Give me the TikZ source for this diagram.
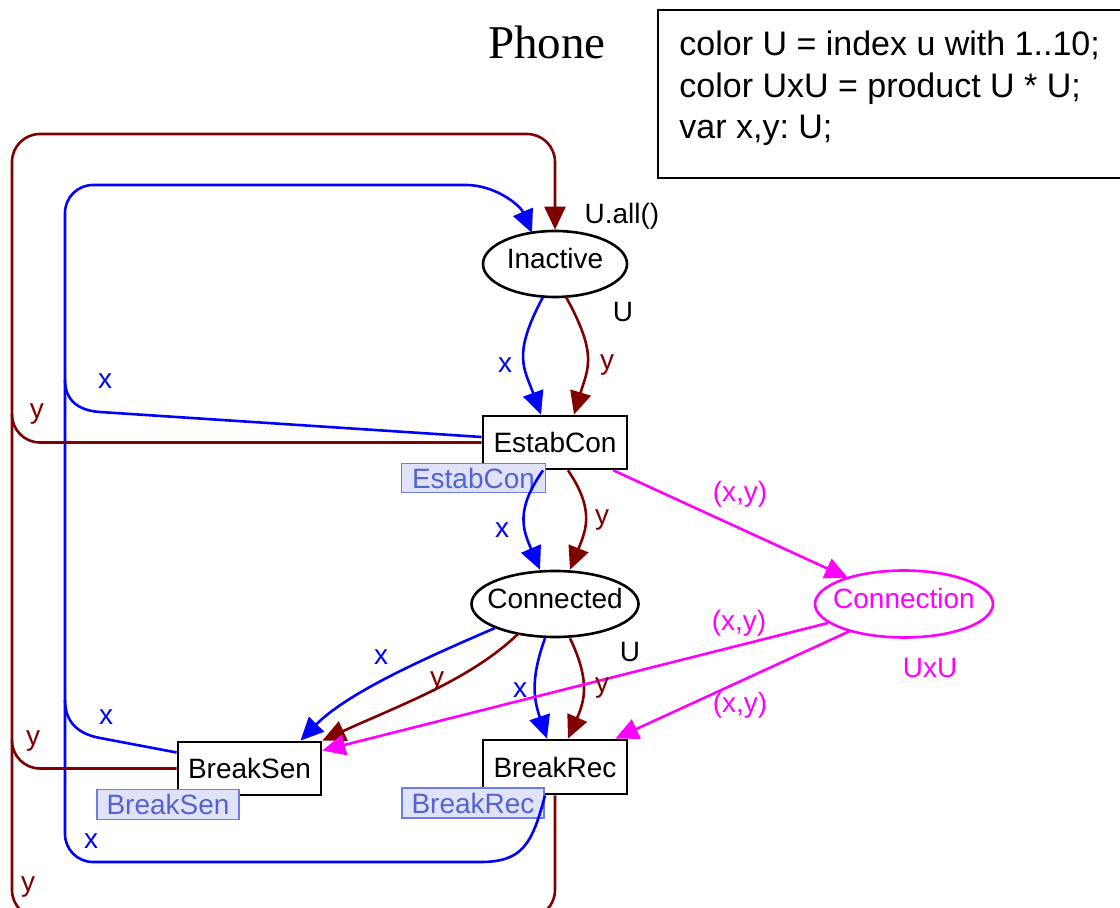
\documentclass[tikz,border=0pt]{standalone}
\usepackage{fontspec}
\setmainfont{Liberation Sans}
\newfontfamily\titlefont{Liberation Serif}
\usetikzlibrary{arrows.meta,shapes.geometric}

\definecolor{arcblue}{RGB}{0,0,255}
\definecolor{arcred}{RGB}{128,0,0}
\definecolor{arcmag}{RGB}{255,0,255}
\definecolor{tagfill}{RGB}{224,226,250}
\definecolor{tagdraw}{RGB}{110,125,225}
\definecolor{tagtext}{RGB}{85,100,205}

\begin{document}
\frenchspacing
\begin{tikzpicture}[x=0.5pt,y=-0.5pt,
  font=\fontsize{14pt}{16pt}\selectfont,
  place/.style={ellipse, draw, line width=1.3pt, inner sep=0pt},
  placetext/.style={inner sep=0pt, text height=0.75em, text depth=0.25em},
  trans/.style={rectangle, draw, line width=1.4pt, inner sep=0pt, fill=white},
  tag/.style={rectangle, draw=tagdraw, fill=tagfill, text=tagtext,
    line width=0.7pt, inner sep=0pt},
  flow/.style={line width=1.3pt, -{Triangle[length=11.5pt,width=10.5pt]}},
  wire/.style={line width=1.3pt},
  lbl/.style={inner sep=0pt},
]
\useasboundingbox (0,0) rectangle (1120,908);
\clip (0,0) rectangle (1120,908);

% title and declarations
\node[lbl, font=\titlefont\fontsize{23.5pt}{26pt}\selectfont] (title) at (547,42) {Phone};
\node[draw, line width=1pt, anchor=north west, minimum width=234pt,
      minimum height=84pt, inner sep=0pt] (decls) at (657,9) {};
\node[lbl, anchor=base west, font=\fontsize{17pt}{20pt}\selectfont] (decl1) at (679,56) {color U = index u with 1..10;};
\node[lbl, anchor=base west, font=\fontsize{17pt}{20pt}\selectfont] (decl2) at (679,97.5) {color UxU = product U * U;};
\node[lbl, anchor=base west, font=\fontsize{17pt}{20pt}\selectfont] (decl3) at (679,139) {var x,y: U;};

% places
\node[place, minimum width=72pt, minimum height=33pt] (Inactive) at (555,264) {};
\node[placetext] (InactiveText) at (Inactive.center) {Inactive};
\node[place, minimum width=83.5pt, minimum height=33pt] (Connected) at (555,604) {};
\node[placetext] (ConnectedText) at (Connected.center) {Connected};
\node[place, draw=arcmag, minimum width=89pt, minimum height=33.5pt] (Connection) at (904,604) {};
\node[placetext, text=arcmag] (ConnectionText) at (Connection.center) {Connection};

% transitions
\node[trans, minimum width=72pt, minimum height=26.5pt] (EstabCon) at (555,442.5) {EstabCon};
\node[trans, minimum width=71.5pt, minimum height=26.5pt] (BreakSen) at (249.5,768.5) {BreakSen};
\node[trans, minimum width=72pt, minimum height=27pt] (BreakRec) at (555,767) {BreakRec};

% transition tags
\node[tag, minimum width=72pt, minimum height=14.5pt] (EstabConTag) at (473.5,478) {EstabCon};
\node[tag, minimum width=71pt, minimum height=15pt] (BreakSenTag) at (168,804.5) {BreakSen};
\node[tag, minimum width=71pt, minimum height=15pt] (BreakRecTag) at (473,803) {BreakRec};

% Inactive -> EstabCon
\draw[flow, arcblue] ([shift={(-12,33)}]Inactive.center) .. controls (512,355) and (524,368) .. ([shift={(-14,0)}]EstabCon.north);
\draw[flow, arcred] ([shift={(11,33)}]Inactive.center) .. controls (598,355) and (588,368) .. ([shift={(19,0)}]EstabCon.north);

% EstabCon -> Connected
\draw[flow, arcblue] ([shift={(-12,0)}]EstabCon.south) .. controls (515,510) and (523,530) .. ([shift={(-15,0)}]Connected.north);
\draw[flow, arcred] ([shift={(13,0)}]EstabCon.south) .. controls (595,510) and (586,530) .. ([shift={(15,0)}]Connected.north);

% Connected -> BreakRec
\draw[flow, arcblue] ([shift={(-10,0)}]Connected.south) .. controls (530,680) and (534,700) .. ([shift={(-8,0)}]BreakRec.north);
\draw[flow, arcred] ([shift={(15,0)}]Connected.south) .. controls (590,680) and (585,700) .. ([shift={(13,0)}]BreakRec.north);

% Connected -> BreakSen
\draw[flow, arcblue] ([shift={(-60,24)}]Connected.center) .. controls (440,652) and (350,690) .. ([shift={(51,0)}]BreakSen.north);
\draw[flow, arcred] ([shift={(-37,30)}]Connected.center) .. controls (470,680) and (400,705) .. (BreakSen.north east);

% EstabCon -> Connection -> BreakSen, BreakRec
\draw[flow, arcmag] ([shift={(-15,0)}]EstabCon.south east) -- ([shift={(-56,-26)}]Connection.center);
\draw[flow, arcmag] ([shift={(-76,19)}]Connection.center) -- ([shift={(0,-18)}]BreakSen.east);
\draw[flow, arcmag] ([shift={(-54,27)}]Connection.center) -- ([shift={(-13,0)}]BreakRec.north east);

% BreakRec -> Inactive (x), around the left
\draw[flow, arcblue] ([shift={(-10,0)}]BreakRec.south) .. controls (532,845) and (522,862) .. (480,862)
  -- (93,862) .. controls (77.5,862) and (65,849.5) .. (65,834)
  -- (65,213) .. controls (65,197.5) and (77.5,185) .. (93,185)
  -- (466,185) .. controls (495,185) and (520,205) .. ([shift={(-23,-31)}]Inactive.center);
% BreakRec -> Inactive (y), outer loop
\draw[flow, arcred] (BreakRec.south) -- (555,890) .. controls (555,905.5) and (542.5,918) .. (527,918)
  -- (40,918) .. controls (24.5,918) and (12,905.5) .. (12,890)
  -- (12,162) .. controls (12,146.5) and (24.5,134) .. (40,134)
  -- (527,134) .. controls (542.5,134) and (555,146.5) .. (555,162)
  -- (Inactive.north);

% branches joining the loops
\draw[wire, arcblue] ([shift={(0,-5.5)}]EstabCon.west) -- (100,412) .. controls (78,410.6) and (65,400) .. (65,380);
\draw[wire, arcred] (EstabCon.west) -- (40,442.5) .. controls (24.5,442.5) and (12,430) .. (12,414.5);
\draw[wire, arcblue] ([shift={(0,-16)}]BreakSen.west) -- (100,738) .. controls (78,734) and (65,722) .. (65,700);
\draw[wire, arcred] (BreakSen.west) -- (40,768.5) .. controls (24.5,768.5) and (12,756) .. (12,740.5);

% inscriptions
\node[lbl] (initmark) at (622,216) {U.all()};
\node[lbl] (typeInactive) at (623,312) {U};
\node[lbl] (typeConnected) at (630,652) {U};
\node[lbl, text=arcmag] (typeConnection) at (930,668) {UxU};
\node[lbl, text=arcblue] (ix1) at (505,365) {x};
\node[lbl, text=arcred] (iy1) at (607,365) {y};
\node[lbl, text=arcblue] (ix2) at (105,381) {x};
\node[lbl, text=arcred] (iy2) at (37,414) {y};
\node[lbl, text=arcblue] (ix3) at (502,530) {x};
\node[lbl, text=arcred] (iy3) at (602,520) {y};
\node[lbl, text=arcmag] (ixy1) at (740,494) {(x,y)};
\node[lbl, text=arcmag] (ixy2) at (739,623) {(x,y)};
\node[lbl, text=arcmag] (ixy3) at (740,705) {(x,y)};
\node[lbl, text=arcblue] (ix4) at (381,657) {x};
\node[lbl, text=arcred] (iy4) at (437,682) {y};
\node[lbl, text=arcblue] (ix5) at (520,690) {x};
\node[lbl, text=arcred] (iy5) at (602,688) {y};
\node[lbl, text=arcblue] (ix6) at (106,717) {x};
\node[lbl, text=arcred] (iy6) at (33,741) {y};
\node[lbl, text=arcblue] (ix7) at (91,841) {x};
\node[lbl, text=arcred] (iy7) at (28,887) {y};
\end{tikzpicture}
\end{document}
